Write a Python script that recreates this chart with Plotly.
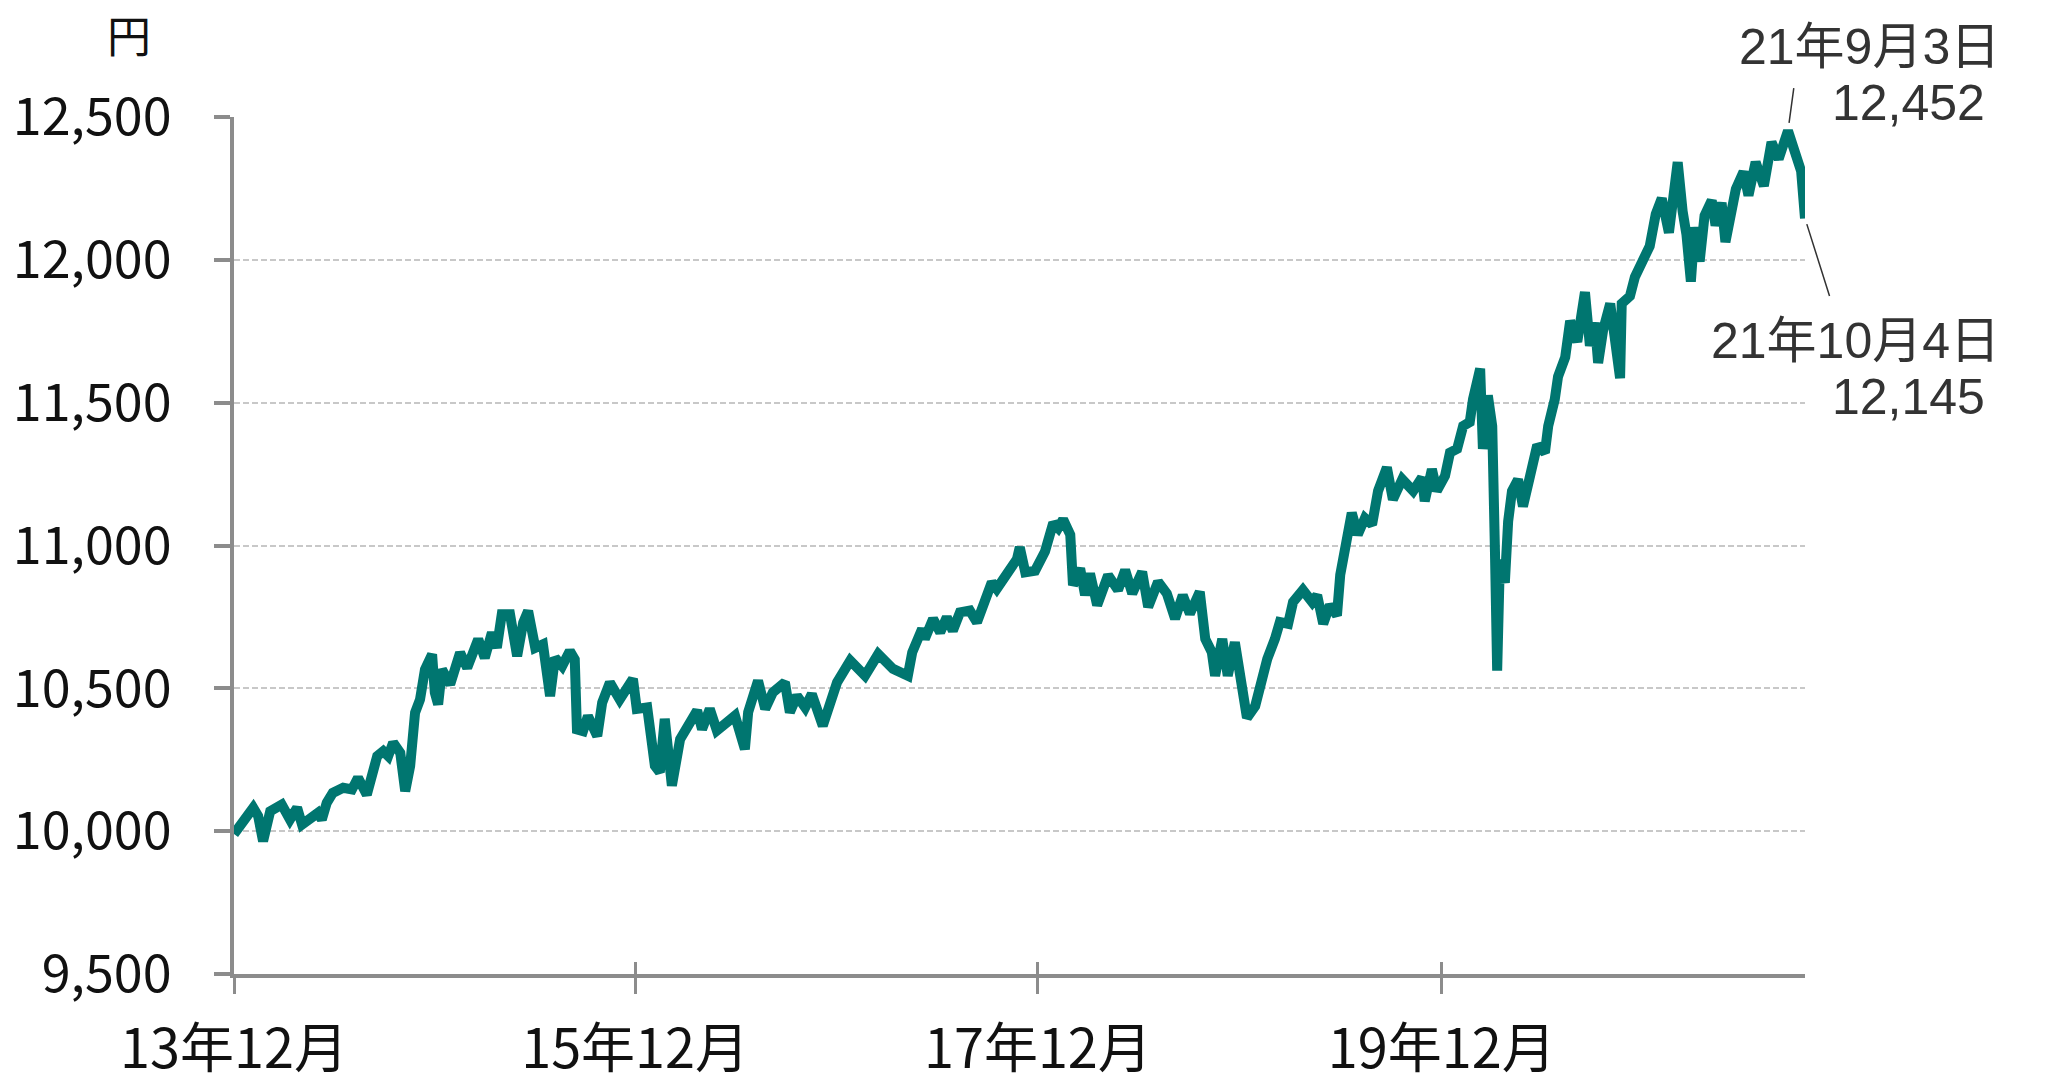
import plotly.graph_objects as go

# ---- data ----
dates = [
    "2013-12-02", "2013-12-18", "2014-01-06", "2014-01-15", "2014-01-24", "2014-02-06", "2014-02-27",
    "2014-03-14", "2014-03-27", "2014-04-05", "2014-04-20", "2014-05-04", "2014-05-11", "2014-05-20",
    "2014-05-31", "2014-06-19", "2014-07-05", "2014-07-16", "2014-08-01", "2014-08-07", "2014-08-20",
    "2014-08-31", "2014-09-09", "2014-09-18", "2014-10-01", "2014-10-10", "2014-10-19", "2014-10-28",
    "2014-11-06", "2014-11-15", "2014-11-28", "2014-12-03", "2014-12-09", "2014-12-16", "2014-12-31",
    "2015-01-18", "2015-01-31", "2015-02-20", "2015-03-04", "2015-03-17", "2015-03-26", "2015-04-04",
    "2015-04-19", "2015-05-02", "2015-05-13", "2015-05-22", "2015-06-04", "2015-06-18", "2015-07-01",
    "2015-07-10", "2015-07-23", "2015-08-06", "2015-08-15", "2015-08-19", "2015-08-30", "2015-09-08",
    "2015-09-25", "2015-10-04", "2015-10-18", "2015-11-05", "2015-11-24", "2015-11-29", "2015-12-06",
    "2015-12-25", "2016-01-08", "2016-01-17", "2016-01-26", "2016-02-08", "2016-02-23", "2016-03-08",
    "2016-03-25", "2016-04-03", "2016-04-17", "2016-04-30", "2016-05-18", "2016-06-02", "2016-06-20",
    "2016-06-26", "2016-07-14", "2016-07-27", "2016-08-10", "2016-09-01", "2016-09-10", "2016-09-23",
    "2016-10-08", "2016-10-20", "2016-11-09", "2016-11-28", "2016-12-05", "2016-12-29", "2017-01-07",
    "2017-01-25", "2017-02-18", "2017-03-17", "2017-04-13", "2017-04-21", "2017-05-09", "2017-05-14",
    "2017-05-29", "2017-06-11", "2017-06-23", "2017-07-04", "2017-07-17", "2017-08-04", "2017-08-17",
    "2017-08-28", "2017-09-13", "2017-09-22", "2017-10-13", "2017-10-29", "2017-11-03", "2017-11-13",
    "2017-12-01", "2017-12-19", "2018-01-03", "2018-01-12", "2018-01-21", "2018-02-03", "2018-02-08",
    "2018-02-21", "2018-03-02", "2018-03-11", "2018-03-24", "2018-04-13", "2018-05-01", "2018-05-14",
    "2018-05-27", "2018-06-14", "2018-06-25", "2018-07-13", "2018-07-29", "2018-08-13", "2018-08-27",
    "2018-09-09", "2018-09-27", "2018-10-07", "2018-10-19", "2018-10-25", "2018-11-07", "2018-11-17",
    "2018-11-30", "2018-12-09", "2018-12-22", "2019-01-06", "2019-01-15", "2019-01-28", "2019-02-11",
    "2019-02-20", "2019-03-07", "2019-03-16", "2019-04-03", "2019-04-20", "2019-04-29", "2019-05-10",
    "2019-05-22", "2019-06-04", "2019-06-10", "2019-06-19", "2019-07-01", "2019-07-12", "2019-07-25",
    "2019-08-07", "2019-08-18", "2019-09-03", "2019-09-14", "2019-10-01", "2019-10-21", "2019-11-06",
    "2019-11-11", "2019-11-24", "2019-12-03", "2019-12-18", "2019-12-27", "2020-01-09", "2020-01-20",
    "2020-02-01", "2020-02-07", "2020-02-20", "2020-02-25", "2020-03-05", "2020-03-13", "2020-03-18",
    "2020-03-22", "2020-03-27", "2020-04-05", "2020-04-11", "2020-04-18", "2020-04-29", "2020-05-08",
    "2020-05-21", "2020-06-03", "2020-06-17", "2020-06-23", "2020-07-05", "2020-07-11", "2020-07-24",
    "2020-08-02", "2020-08-15", "2020-08-29", "2020-09-07", "2020-09-16", "2020-09-22", "2020-10-01",
    "2020-10-14", "2020-10-23", "2020-11-01", "2020-11-04", "2020-11-19", "2020-11-28", "2020-12-13",
    "2020-12-25", "2021-01-05", "2021-01-16", "2021-01-29", "2021-02-07", "2021-02-14", "2021-02-23",
    "2021-03-02", "2021-03-10", "2021-03-17", "2021-03-26", "2021-04-04", "2021-04-17", "2021-04-24",
    "2021-05-05", "2021-05-12", "2021-05-23", "2021-05-31", "2021-06-14", "2021-06-23", "2021-07-06",
    "2021-07-21", "2021-08-04", "2021-08-17", "2021-09-03", "2021-09-14", "2021-09-20", "2021-09-27",
    "2021-10-04",
]
values = [
    9990, 10035, 10082, 10053, 9965, 10070, 10093,
    10041, 10082, 10023, 10047, 10064, 10041, 10099,
    10134, 10152, 10146, 10187, 10128, 10169, 10263,
    10280, 10263, 10310, 10274, 10140, 10228, 10415,
    10461, 10566, 10619, 10485, 10444, 10566, 10514,
    10625, 10572, 10672, 10607, 10695, 10642, 10759,
    10759, 10613, 10730, 10771, 10642, 10654, 10473,
    10607, 10578, 10631, 10601, 10356, 10350, 10403,
    10333, 10450, 10520, 10461, 10531, 10533, 10428,
    10433, 10229, 10206, 10393, 10159, 10322, 10369,
    10422, 10357, 10428, 10352, 10381, 10404, 10287,
    10416, 10527, 10428, 10486, 10521, 10416, 10474,
    10433, 10480, 10369, 10463, 10521, 10597, 10579,
    10544, 10620, 10568, 10544, 10626, 10708, 10673,
    10743, 10696, 10749, 10702, 10766, 10772, 10731,
    10790, 10871, 10848, 10901, 10953, 10994, 10906,
    10912, 10979, 11079, 11061, 11091, 11038, 10861,
    10920, 10826, 10902, 10791, 10896, 10844, 10914,
    10832, 10908, 10785, 10873, 10832, 10744, 10826,
    10761, 10838, 10673, 10626, 10544, 10673, 10544,
    10661, 10567, 10397, 10438, 10508, 10603, 10673,
    10732, 10726, 10802, 10844, 10802, 10826, 10726,
    10791, 10755, 10897, 11014, 11114, 11038, 11096,
    11073, 11191, 11273, 11161, 11232, 11191, 11238,
    11155, 11267, 11191, 11244, 11325, 11338, 11418,
    11432, 11512, 11619, 11338, 11525, 11418, 10977,
    10562, 10950, 10870, 11084, 11191, 11231, 11137,
    11244, 11351, 11325, 11418, 11512, 11592, 11659,
    11786, 11713, 11887, 11699, 11780, 11639, 11753,
    11847, 11726, 11586, 11847, 11873, 11940, 11994,
    12048, 12160, 12215, 12095, 12235, 12342, 12170,
    12088, 11924, 12114, 11994, 12155, 12208, 12120,
    12200, 12062, 12170, 12248, 12308, 12225, 12342,
    12259, 12412, 12353, 12452, 12380, 12330, 12310,
    12145,
]

tick_dates = ["2013-12-02", "2015-12-03", "2017-12-06", "2019-12-12"]
tick_labels = ["13年12月", "15年12月", "17年12月", "19年12月"]

y_ticks = [9500, 10000, 10500, 11000, 11500, 12000, 12500]
y_range = [9500, 12500]
x_range = ["2013-12-02", "2021-10-04"]

peak_date, peak_value = "2021-09-03", 12452
last_date, last_value = "2021-10-04", 12145
peak_label = ["21年9月3日", "12,452"]
last_label = ["21年10月4日", "12,145"]
unit_label = "円"

# ---- layout constants ----
# the page body has an 8px default margin, so the figure is made 8px smaller
OFF = 8
W, H = 2048 - OFF, 1084 - OFF
ML, MR, MT, MB = 234 - OFF, 243, 117 - OFF, 110
PW, PH = W - ML - MR, H - MT - MB

LINE_COLOR = "#007670"
AXIS_COLOR = "#8C8C8C"
GRID_COLOR = "#C8C8C8"
FONT = "Noto Sans CJK JP"
ANN_FONT = "Liberation Sans, Noto Sans CJK JP"


def px_to_paper_x(px):
    # px given in page pixels
    return (px - OFF - ML) / PW


def px_to_paper_y(py):
    return 1 - (py - OFF - MT) / PH


fig = go.Figure()
fig.add_trace(go.Scatter(
    x=dates, y=values, mode="lines",
    line=dict(color=LINE_COLOR, width=10),
    hoverinfo="skip",
))
# invisible trace on overlay axis so its crossing ticks render
fig.add_trace(go.Scatter(x=x_range, y=y_range, xaxis="x2", mode="lines",
                         line=dict(width=0), opacity=0, hoverinfo="skip", showlegend=False))

fig.update_layout(
    width=W, height=H,
    margin=dict(l=ML, r=MR, t=MT, b=MB, pad=0, autoexpand=False),
    paper_bgcolor="white", plot_bgcolor="white",
    showlegend=False,
    font=dict(family=FONT, color="#111111"),
    xaxis=dict(
        type="date", range=x_range, automargin=False,
        tickmode="array", tickvals=tick_dates, ticktext=tick_labels,
        ticks="outside", ticklen=16, tickwidth=3, tickcolor=AXIS_COLOR,
        showline=True, linecolor=AXIS_COLOR, linewidth=4,
        showgrid=False, zeroline=False,
        tickfont=dict(size=54, family=FONT, color="#111111"),
        ticklabelstandoff=9,
    ),
    xaxis2=dict(
        type="date", overlaying="x", matches="x", anchor="y", side="bottom",
        automargin=False,
        tickmode="array", tickvals=tick_dates,
        ticks="inside", ticklen=12, tickwidth=3, tickcolor=AXIS_COLOR,
        showticklabels=False, showline=False, showgrid=False, zeroline=False,
    ),
    yaxis=dict(
        range=y_range, tickmode="array", tickvals=y_ticks, automargin=False,
        tickformat=",",
        ticks="outside", ticklen=16, tickwidth=4, tickcolor=AXIS_COLOR,
        showline=True, linecolor=AXIS_COLOR, linewidth=4,
        showgrid=True, gridcolor=GRID_COLOR, gridwidth=1.5, griddash="6px,3px",
        zeroline=False,
        tickfont=dict(size=52, family=FONT, color="#111111"),
        ticklabelstandoff=32,
    ),
)

ann_font = dict(size=50, family=ANN_FONT, color="#333333")
annotations = [
    dict(text=unit_label, xref="paper", yref="paper",
         x=px_to_paper_x(129), y=px_to_paper_y(37), xanchor="center", yanchor="middle",
         showarrow=False, font=dict(size=44, family=ANN_FONT, color="#111111")),
    dict(text=peak_label[0], xref="paper", yref="paper",
         x=px_to_paper_x(2002), y=px_to_paper_y(47), xanchor="right", yanchor="middle",
         showarrow=False, font=ann_font),
    dict(text=peak_label[1], xref="paper", yref="paper",
         x=px_to_paper_x(1987), y=px_to_paper_y(103), xanchor="right", yanchor="middle",
         showarrow=False, font=ann_font),
    dict(text=last_label[0], xref="paper", yref="paper",
         x=px_to_paper_x(2002), y=px_to_paper_y(341), xanchor="right", yanchor="middle",
         showarrow=False, font=ann_font),
    dict(text=last_label[1], xref="paper", yref="paper",
         x=px_to_paper_x(1987), y=px_to_paper_y(397), xanchor="right", yanchor="middle",
         showarrow=False, font=ann_font),
    # leader lines from the data points toward the labels
    dict(text="", x=peak_date, y=peak_value, xref="x", yref="y",
         showarrow=True, arrowhead=0, arrowwidth=1.5, arrowcolor="#333333",
         ax=6, ay=-44, standoff=8),
    dict(text="", x=last_date, y=last_value, xref="x", yref="y",
         showarrow=True, arrowhead=0, arrowwidth=1.5, arrowcolor="#333333",
         ax=25, ay=79, standoff=6),
]
fig.update_layout(annotations=annotations)

fig.write_html("out.html")
